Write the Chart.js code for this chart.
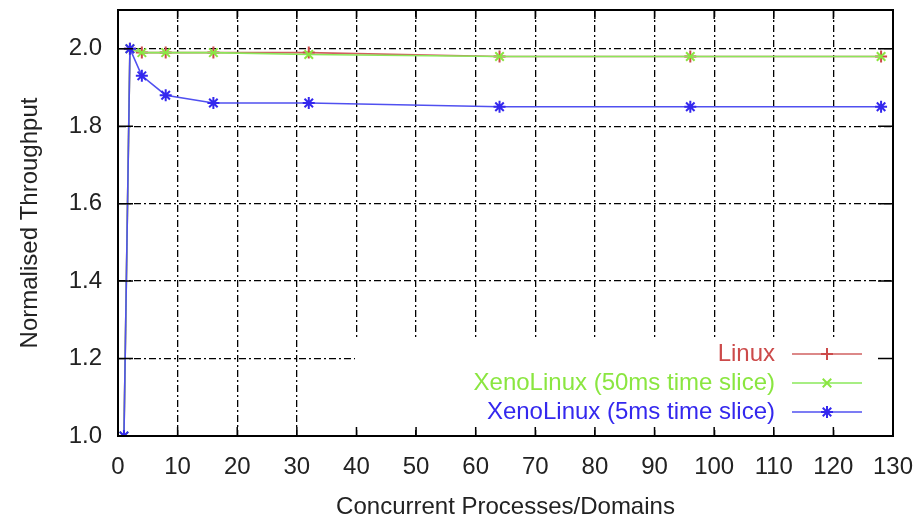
<!DOCTYPE html>
<html>
<head>
<meta charset="utf-8">
<script src="https://cdn.jsdelivr.net/npm/chart.js@4/dist/chart.umd.min.js"></script>
<style>
  html, body { margin: 0; padding: 0; background: #fff; }
  #wrap { width: 923px; height: 522px; position: relative; }
</style>
</head>
<body>
<div id="wrap"><canvas id="chart"></canvas></div>
<script>
// concurrent processes / domains
var processes = [1, 2, 4, 8, 16, 32, 64, 96, 128];
var linux = [1.0, 2.0, 1.99, 1.99, 1.99, 1.99, 1.98, 1.98, 1.98];
var xeno50 = [1.0, 2.0, 1.99, 1.99, 1.99, 1.985, 1.98, 1.98, 1.98];
var xeno5 = [1.0, 2.0, 1.93, 1.88, 1.86, 1.86, 1.85, 1.85, 1.85];

var xTicks = [0, 10, 20, 30, 40, 50, 60, 70, 80, 90, 100, 110, 120, 130];
var yTicks = [1.0, 1.2, 1.4, 1.6, 1.8, 2.0];
var seriesNames = ["Linux", "XenoLinux (50ms time slice)", "XenoLinux (5ms time slice)"];

var FONT = "'Liberation Sans', Arial, sans-serif";
Chart.defaults.font.family = FONT;
Chart.defaults.font.size = 24;
Chart.defaults.color = "#222";

function pts(vals) {
    var out = [];
    for (var i = 0; i < processes.length; i++) {
        out.push({ x: processes[i], y: vals[i] });
    }
    return out;
}

var colors = ["#cc4a4a", "#8ae640", "#3428ee"];
var lineColors = ["#d06060", "#8ae85a", "#5050f0"];
var styles = ["cross", "crossRot", "star"];

function ds(i, vals) {
    return {
        label: seriesNames[i],
        data: pts(vals),
        borderColor: lineColors[i],
        backgroundColor: colors[i],
        borderWidth: 1.6,
        pointStyle: styles[i],
        pointRadius: 6,
        pointBorderWidth: 2,
        pointBorderColor: colors[i],
        tension: 0,
        order: 3 - i
    };
}

var gridOpts = {
    color: "#000",
    lineWidth: 1.3,
    drawTicks: false
};

var legendBox = {
    id: "legendBox",
    afterDatasetsDraw: function (chart) {
        var ctx = chart.ctx;
        var a = chart.chartArea;
        var xs = chart.scales.x, ys = chart.scales.y;
        ctx.save();
        // white key box over the grid
        ctx.fillStyle = "#fff";
        ctx.fillRect(355, 340, a.right - 355, 428 - 340);

        // inward tick marks on all sides
        ctx.strokeStyle = "#000";
        ctx.lineWidth = 1.5;
        ctx.setLineDash([]);
        ctx.beginPath();
        xTicks.forEach(function (v) {
            var px = xs.getPixelForValue(v);
            ctx.moveTo(px, a.bottom); ctx.lineTo(px, a.bottom - 9);
            ctx.moveTo(px, a.top); ctx.lineTo(px, a.top + 9);
        });
        yTicks.forEach(function (v) {
            var py = ys.getPixelForValue(v);
            ctx.moveTo(a.left, py); ctx.lineTo(a.left + 15, py);
            ctx.moveTo(a.right, py); ctx.lineTo(a.right - 15, py);
        });
        ctx.stroke();

        // frame
        ctx.lineWidth = 2;
        ctx.strokeRect(a.left, a.top, a.right - a.left, a.bottom - a.top);

        // key entries
        ctx.font = "24px " + FONT;
        ctx.textAlign = "right";
        ctx.textBaseline = "middle";
        var rows = [354, 383, 412];
        for (var i = 0; i < seriesNames.length; i++) {
            ctx.fillStyle = colors[i];
            ctx.fillText(seriesNames[i], 775, rows[i]);
            ctx.strokeStyle = lineColors[i];
            ctx.lineWidth = 1.6;
            ctx.beginPath();
            ctx.moveTo(792, rows[i]);
            ctx.lineTo(862, rows[i]);
            ctx.stroke();
            ctx.strokeStyle = colors[i];
            ctx.lineWidth = 2;
            Chart.helpers.drawPoint(ctx, { pointStyle: styles[i], radius: 6, rotation: 0, borderWidth: 2 }, 827, rows[i]);
        }
        ctx.restore();
    }
};

new Chart(document.getElementById("chart"), {
    type: "line",
    data: {
        datasets: [ds(0, linux), ds(1, xeno50), ds(2, xeno5)]
    },
    options: {
        responsive: true,
        maintainAspectRatio: false,
        animation: false,
        layout: { padding: { top: 10, right: 30, left: 0, bottom: 0 } },
        plugins: {
            legend: { display: false },
            tooltip: { enabled: false }
        },
        scales: {
            x: {
                type: "linear",
                min: 0,
                max: 130,
                afterBuildTicks: function (s) {
                    s.ticks = xTicks.map(function (v) { return { value: v }; });
                },
                afterFit: function (s) {
                    s.height = 86;
                    s.paddingLeft = 0;
                    s.paddingRight = 0;
                },
                ticks: { padding: 17, maxRotation: 0, autoSkip: false, color: "#222" },
                grid: Object.assign({ borderDash: [7, 3, 2, 3] }, gridOpts),
                border: { display: true, color: "#000", width: 2, dash: [7, 3, 2, 3] },
                title: {
                    display: true,
                    text: "Concurrent Processes/Domains",
                    padding: { top: 0, bottom: 0 },
                    color: "#222"
                }
            },
            y: {
                type: "linear",
                min: 1.0,
                max: 2.1,
                afterBuildTicks: function (s) {
                    s.ticks = yTicks.map(function (v) { return { value: v }; });
                },
                afterFit: function (s) {
                    s.width = 118;
                    s.paddingTop = 0;
                    s.paddingBottom = 0;
                },
                ticks: {
                    padding: 16,
                    color: "#222",
                    callback: function (v) { return Number(v).toFixed(1); }
                },
                grid: gridOpts,
                border: { display: true, color: "#000", width: 2, dash: [7, 3, 2, 3] },
                title: {
                    display: true,
                    text: "Normalised Throughput",
                    padding: { top: 16, bottom: 0 },
                    color: "#222"
                }
            }
        }
    },
    plugins: [legendBox]
});
</script>
</body>
</html>
